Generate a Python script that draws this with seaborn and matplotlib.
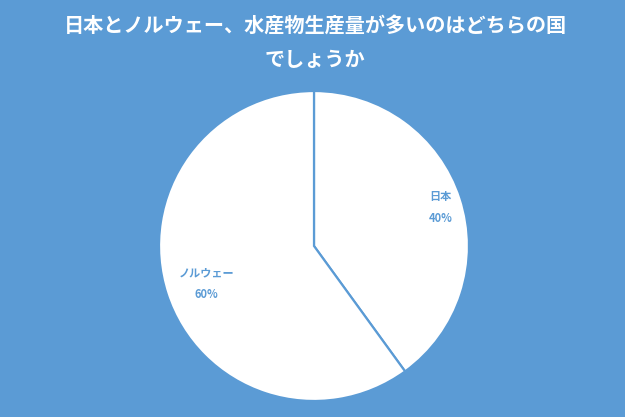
import matplotlib
matplotlib.use("Agg")
import matplotlib.pyplot as plt
import seaborn as sns
import numpy as np

countries = ["日本", "ノルウェー"]
shares = [40, 60]
title_text = "日本とノルウェー、水産物生産量が多いのはどちらの国\nでしょうか"

BG = "#5B9BD5"
sns.set_theme(style="white")
plt.rcParams['font.family'] = ['Noto Sans CJK JP', 'DejaVu Sans']

fig = plt.figure(figsize=(6.25, 4.17), dpi=100, facecolor=BG)
W, H = 625, 417
cx, cy, r = 314, 246, 155
ax = fig.add_axes([(cx - r) / W, 1 - (cy + r) / H, 2 * r / W, 2 * r / H])
ax.set_facecolor(BG)

pal = sns.color_palette(["white", "white"])
wedges, _ = ax.pie(shares, colors=pal, startangle=90, counterclock=False,
                   radius=1.0,
                   wedgeprops=dict(edgecolor=BG, linewidth=1.6))
ax.set_xlim(-1, 1)
ax.set_ylim(-1, 1)
ax.set_aspect("equal")
ax.axis("off")

dists = [0.86, 0.73]
for w, name, val, d in zip(wedges, countries, shares, dists):
    ang = np.deg2rad((w.theta1 + w.theta2) / 2)
    x, y = d * np.cos(ang), d * np.sin(ang) - 0.018
    ax.text(x, y, f"{name}\n\n{val}%", ha="center", va="center",
            color=BG, fontsize=8, fontweight="bold", linespacing=0.8)

fig.text(0.504, 1 - 42 / H, title_text, ha="center", va="center",
         color="white", fontsize=14.5, fontweight="bold", linespacing=1.8)

fig.savefig("out.png", dpi=100, facecolor=BG)
